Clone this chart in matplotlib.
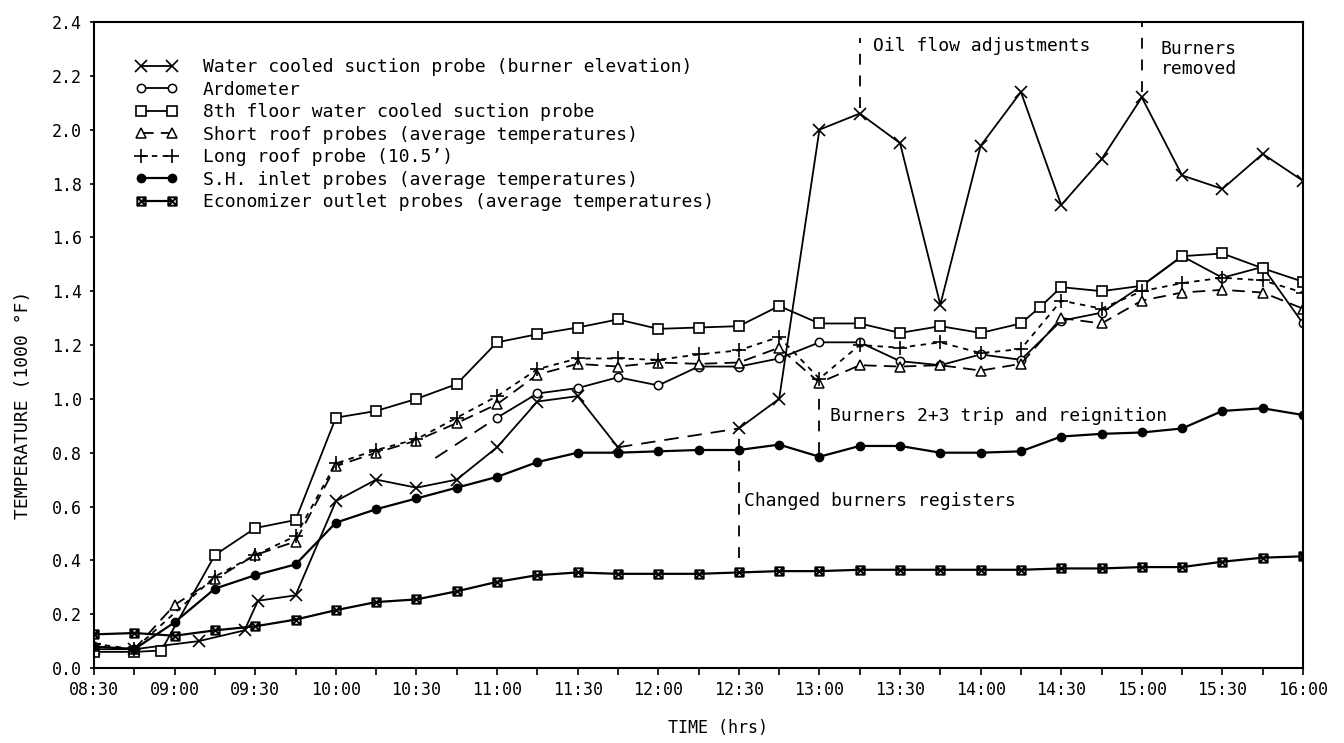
import matplotlib
matplotlib.use('Agg')
import matplotlib.pyplot as plt
from matplotlib.path import Path
from matplotlib.ticker import MultipleLocator, FuncFormatter

plt.rcParams['font.family'] = ['DejaVu Sans Mono']

# =========================
# DATA
# =========================

def hrs(t):
    h, m = t.split(':')
    return int(h) + int(m) / 60

# Water cooled suction probe (burner elevation)
wc_t = ['08:30', '08:45', '09:09', '09:26', '09:31', '09:45', '10:00', '10:15',
        '10:30', '10:45', '11:00', '11:15', '11:30', '11:45', '12:30', '12:45',
        '13:00', '13:15', '13:30', '13:45', '14:00', '14:15', '14:30', '14:45',
        '15:00', '15:15', '15:30', '15:45', '16:00']
wc_v = [0.07, 0.07, 0.10, 0.14, 0.25, 0.27, 0.62, 0.70,
        0.67, 0.70, 0.82, 0.99, 1.01, 0.82, 0.89, 1.00,
        2.00, 2.06, 1.95, 1.35, 1.94, 2.14, 1.72, 1.89,
        2.12, 1.83, 1.78, 1.91, 1.81]
wc_gap = ('11:45', '12:30')   # drawn dashed between these readings

# Ardometer
ar_t = ['11:00', '11:15', '11:30', '11:45', '12:00', '12:15', '12:30', '12:45',
        '13:00', '13:15', '13:30', '13:45', '14:00', '14:15', '14:30', '14:45',
        '15:00', '15:15', '15:30', '15:45', '16:00']
ar_v = [0.93, 1.02, 1.04, 1.08, 1.05, 1.12, 1.12, 1.15,
        1.21, 1.21, 1.14, 1.125, 1.165, 1.145, 1.29, 1.32,
        1.42, 1.53, 1.45, 1.49, 1.28]
ar_lead_t = ['10:37', '11:00']
ar_lead_v = [0.78, 0.93]

# 8th floor water cooled suction probe
fl_t = ['08:30', '08:45', '08:55', '09:15', '09:30', '09:45', '10:00', '10:15',
        '10:30', '10:45', '11:00', '11:15', '11:30', '11:45', '12:00', '12:15',
        '12:30', '12:45', '13:00', '13:15', '13:30', '13:45', '14:00', '14:15',
        '14:22', '14:30', '14:45', '15:00', '15:15', '15:30', '15:45', '16:00']
fl_v = [0.06, 0.06, 0.065, 0.42, 0.52, 0.55, 0.93, 0.955,
        1.00, 1.055, 1.21, 1.24, 1.265, 1.295, 1.26, 1.265,
        1.27, 1.345, 1.28, 1.28, 1.245, 1.27, 1.245, 1.28,
        1.34, 1.415, 1.40, 1.42, 1.53, 1.54, 1.485, 1.435]

# common 15 minute grid for the remaining probes
grid_t = ['08:30', '08:45', '09:00', '09:15', '09:30', '09:45', '10:00', '10:15',
          '10:30', '10:45', '11:00', '11:15', '11:30', '11:45', '12:00', '12:15',
          '12:30', '12:45', '13:00', '13:15', '13:30', '13:45', '14:00', '14:15',
          '14:30', '14:45', '15:00', '15:15', '15:30', '15:45', '16:00']

# Short roof probes (average temperatures)
sr_v = [0.08, 0.07, 0.235, 0.33, 0.42, 0.47, 0.75, 0.80,
        0.845, 0.91, 0.98, 1.09, 1.13, 1.12, 1.135, 1.13,
        1.135, 1.19, 1.06, 1.125, 1.12, 1.125, 1.105, 1.13,
        1.30, 1.28, 1.365, 1.395, 1.405, 1.395, 1.335]

# Long roof probe (10.5')
lr_t = [t for t in grid_t if t != '09:00']
lr_v = [0.09, 0.07, 0.34, 0.42, 0.49, 0.76, 0.81,
        0.85, 0.93, 1.01, 1.11, 1.15, 1.15, 1.145, 1.165,
        1.18, 1.23, 1.075, 1.20, 1.19, 1.21, 1.17, 1.185,
        1.365, 1.335, 1.40, 1.43, 1.45, 1.44, 1.395]

# S.H. inlet probes (average temperatures)
sh_v = [0.08, 0.07, 0.17, 0.295, 0.345, 0.385, 0.54, 0.59,
        0.63, 0.67, 0.71, 0.765, 0.80, 0.80, 0.805, 0.81,
        0.81, 0.83, 0.785, 0.825, 0.825, 0.80, 0.80, 0.805,
        0.86, 0.87, 0.875, 0.89, 0.955, 0.965, 0.94]

# Economizer outlet probes (average temperatures)
ec_v = [0.125, 0.13, 0.12, 0.14, 0.155, 0.18, 0.215, 0.245,
        0.255, 0.285, 0.32, 0.345, 0.355, 0.35, 0.35, 0.35,
        0.355, 0.36, 0.36, 0.365, 0.365, 0.365, 0.365, 0.365,
        0.37, 0.37, 0.375, 0.375, 0.395, 0.41, 0.415]

labels = ['Water cooled suction probe (burner elevation)',
          'Ardometer',
          '8th floor water cooled suction probe',
          'Short roof probes (average temperatures)',
          'Long roof probe (10.5\u2019)',
          'S.H. inlet probes (average temperatures)',
          'Economizer outlet probes (average temperatures)']

# =========================
# PLOT
# =========================

fig = plt.figure(figsize=(13.44, 7.43), dpi=100)
ax = fig.add_axes([0.070, 0.1009, 0.8995, 0.8695])

LW = 1.3
box_x = Path([(-1, -1), (1, -1), (1, 1), (-1, 1), (-1, -1),
              (-1, -1), (1, 1), (-1, 1), (1, -1)],
             [Path.MOVETO, Path.LINETO, Path.LINETO, Path.LINETO, Path.CLOSEPOLY,
              Path.MOVETO, Path.LINETO, Path.MOVETO, Path.LINETO])

# water cooled probe: solid, with a dashed stretch
wx = [hrs(t) for t in wc_t]
i0, i1 = wc_t.index(wc_gap[0]), wc_t.index(wc_gap[1])
ax.plot(wx[:i0 + 1], wc_v[:i0 + 1], color='k', lw=LW)
ax.plot(wx[i0:i1 + 1], wc_v[i0:i1 + 1], color='k', lw=LW, ls=(0, (8, 5)))
ax.plot(wx[i1:], wc_v[i1:], color='k', lw=LW)
ax.plot(wx, wc_v, ls='none', marker='x', ms=9, mew=1.2, color='k')
h_wc, = ax.plot([], [], color='k', lw=LW, marker='x', ms=9, mew=1.2)

ax.plot([hrs(t) for t in ar_lead_t], ar_lead_v, color='k', lw=LW, ls=(0, (8, 5)))
h_ar, = ax.plot([hrs(t) for t in ar_t], ar_v, color='k', lw=LW, marker='o',
                ms=6, mfc='white', mew=1.1)

h_fl, = ax.plot([hrs(t) for t in fl_t], fl_v, color='k', lw=LW, marker='s',
                ms=7, mfc='white', mew=1.2)

gx = [hrs(t) for t in grid_t]
h_sr, = ax.plot(gx, sr_v, color='k', lw=LW, ls=(0, (7, 4)), marker='^',
                ms=7, mfc='white', mew=1.1)
h_lr, = ax.plot([hrs(t) for t in lr_t], lr_v, color='k', lw=LW, ls=(0, (3, 3)),
                marker='+', ms=10, mew=1.2)
h_sh, = ax.plot(gx, sh_v, color='k', lw=1.6, marker='o', ms=6)
h_ec, = ax.plot(gx, ec_v, color='k', lw=1.6, marker=box_x, ms=6, mfc='none',
                mew=1.4)

# event markers
ev = dict(color='k', lw=1.3, ls=(0, (6, 6)))
ax.plot([hrs('13:15')] * 2, [2.08, 2.34], **ev)
ax.text(hrs('13:20'), 2.31, 'Oil flow adjustments', fontsize=13, va='center')
ax.plot([hrs('15:00')] * 2, [2.14, 2.40], **ev)
ax.text(hrs('15:07'), 2.30, 'Burners', fontsize=13, va='center')
ax.text(hrs('15:07'), 2.225, 'removed', fontsize=13, va='center')
ax.plot([hrs('13:00')] * 2, [0.80, 1.04], **ev)
ax.text(hrs('13:04'), 0.935, 'Burners 2+3 trip and reignition', fontsize=13,
        va='center')
ax.plot([hrs('12:30')] * 2, [0.41, 0.88], **ev)
ax.text(hrs('12:32'), 0.62, 'Changed burners registers', fontsize=13,
        va='center')

ax.set_xlim(hrs('08:30'), hrs('16:00'))
ax.set_ylim(0, 2.4)
ax.xaxis.set_major_locator(MultipleLocator(0.5))
ax.xaxis.set_minor_locator(MultipleLocator(0.25))
ax.xaxis.set_major_formatter(FuncFormatter(
    lambda v, p: f'{int(v):02d}:{int(round((v % 1) * 60)):02d}'))
ax.yaxis.set_major_locator(MultipleLocator(0.2))
ax.yaxis.set_major_formatter(FuncFormatter(lambda v, p: f'{v:.1f}'))
ax.tick_params(axis='x', which='both', direction='out', length=5, width=1.2,
               labelsize=12, pad=4)
ax.tick_params(axis='y', direction='out', length=3, width=1.2, labelsize=12,
               pad=6)
for s in ax.spines.values():
    s.set_linewidth(1.5)

fig.text(718 / 1344, 1 - 728 / 743, 'TIME (hrs)', fontsize=12, ha='center',
         va='center')
fig.text(23 / 1344, 1 - 405 / 743, 'TEMPERATURE (1000 \u00b0F)', fontsize=13,
         rotation=90, ha='center', va='center')

fig.legend([h_wc, h_ar, h_fl, h_sr, h_lr, h_sh, h_ec], labels,
           loc='upper left', bbox_to_anchor=(136 / 1344, 1 - 58 / 743),
           frameon=False, fontsize=13, numpoints=2, handlelength=2.3,
           handletextpad=1.4, labelspacing=0.25, borderpad=0, borderaxespad=0)

fig.savefig('out.png', dpi=100)
